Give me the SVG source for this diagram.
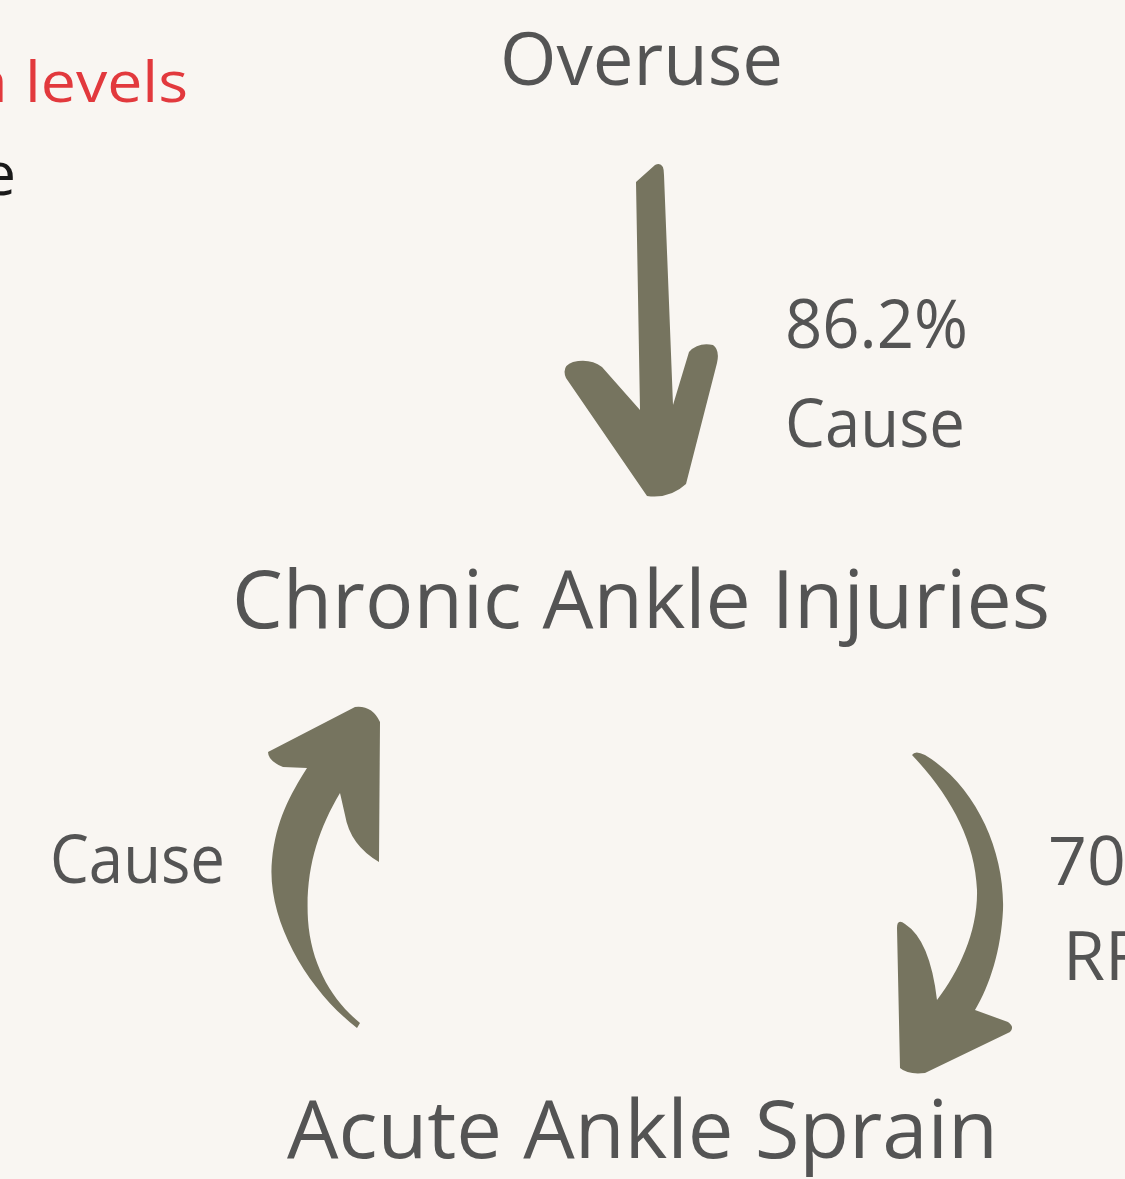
<svg xmlns="http://www.w3.org/2000/svg" width="1125" height="1179" viewBox="0 0 1125 1179">
<style>
.t{font-family:"Open Sans","Noto Sans","DejaVu Sans",sans-serif;fill:#545454}
.arr{fill:#76745f}
.red{font-family:"Open Sans","Noto Sans",sans-serif;fill:#e2393d}
.blk{font-family:"Open Sans","Noto Sans",sans-serif;fill:#1a1a1a}
</style>
<rect width="1125" height="1179" fill="#f9f6f2"/>
<g id="side-notes">
<text class="red" x="-24" y="102" font-size="56">a</text>
<text class="red" x="25" y="102" font-size="56" textLength="163" lengthAdjust="spacingAndGlyphs">levels</text>
<text class="blk" x="16" y="195" font-size="60" text-anchor="end">e</text>
</g>
<g id="node-overuse"><text class="t" x="500" y="85" font-size="74" textLength="283" lengthAdjust="spacingAndGlyphs">Overuse</text></g>
<g id="node-chronic"><text class="t" x="232" y="628" font-size="80" textLength="818" lengthAdjust="spacingAndGlyphs">Chronic Ankle Injuries</text></g>
<g id="node-acute"><text class="t" x="287" y="1158" font-size="80" textLength="711" lengthAdjust="spacingAndGlyphs">Acute Ankle Sprain</text></g>
<g id="connectors">
<path class="arr" d="M636,182 L655,165 Q664,161 664,175 L673,405 L689,352 Q698,342 713,345 Q720,350 717,363 L686,484 Q670,499 647,496 L566,378 Q561,366 573,362 Q590,358 602,367 L640,410 Z"/>
<path class="arr" d="M357,1028 C308,990 266,920 272,860 C276,820 290,795 307,768 L283,767 Q268,761 268,752 L355,707 Q372,705 380,722 L379,862 Q350,845 345,815 L340,793 C318,830 305,870 308,920 C311,965 332,1000 360,1023 Z"/>
<path class="arr" d="M912,755 Q915,750 925,755 C975,785 1005,850 1003,910 C1001,950 990,985 975,1010 L1008,1022 Q1015,1027 1010,1032 L925,1073 Q908,1075 900,1068 L897,928 Q897,918 905,924 Q930,940 937,1000 C960,970 978,930 977,890 C975,840 950,795 912,755 Z"/>
<g id="label-top">
<text class="t" x="785" y="348" font-size="68" textLength="183" lengthAdjust="spacingAndGlyphs">86.2%</text>
<text class="t" x="785" y="447" font-size="68" textLength="180" lengthAdjust="spacingAndGlyphs">Cause</text>
</g>
<g id="label-left"><text class="t" x="50" y="883" font-size="68" textLength="175" lengthAdjust="spacingAndGlyphs">Cause</text></g>
<g id="label-right">
<text class="t" x="1048" y="885" font-size="68">70%</text>
<text class="t" x="1063" y="980" font-size="68">RR</text>
</g>
</g>
</svg>
